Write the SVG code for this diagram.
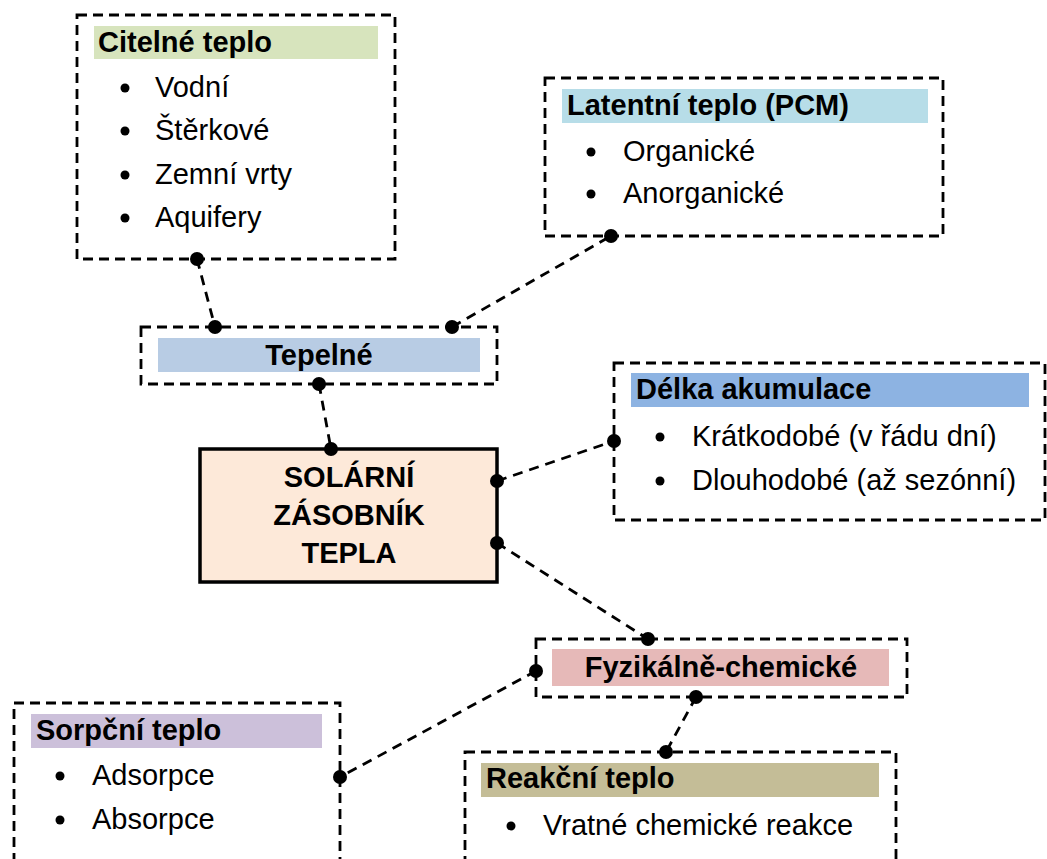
<svg xmlns="http://www.w3.org/2000/svg" width="1047" height="859" viewBox="0 0 1047 859">
<style>
.box{fill:none;stroke:#000;stroke-width:2.8;stroke-dasharray:10,6}
.conn{fill:none;stroke:#000;stroke-width:2.8;stroke-dasharray:10,7}
.dot{fill:#000}
.bul{fill:#000}
.h{font-family:"Liberation Sans",Arial,sans-serif;font-weight:bold;font-size:29px;fill:#000}
.t{font-family:"Liberation Sans",Arial,sans-serif;font-size:29px;fill:#000}
</style>
<rect width="1047" height="859" fill="#fff"/>
<g id="citelne">
<rect class="box" x="77" y="15" width="318" height="244"/>
<rect x="94" y="26" width="284" height="33" fill="#d7e4bd"/>
<text class="h" x="98" y="52">Citelné teplo</text>
<circle class="bul" cx="125" cy="88" r="4.5"/><text class="t" x="155" y="97">Vodní</text>
<circle class="bul" cx="125" cy="131" r="4.5"/><text class="t" x="155" y="140">Štěrkové</text>
<circle class="bul" cx="125" cy="175" r="4.5"/><text class="t" x="155" y="184">Zemní vrty</text>
<circle class="bul" cx="125" cy="218" r="4.5"/><text class="t" x="155" y="227">Aquifery</text>
</g>
<g id="latentni">
<rect class="box" x="545" y="78" width="398" height="158"/>
<rect x="562" y="89" width="366" height="34" fill="#b7dde8"/>
<text class="h" x="567" y="115">Latentní teplo (PCM)</text>
<circle class="bul" cx="591" cy="152" r="4.5"/><text class="t" x="623" y="161">Organické</text>
<circle class="bul" cx="591" cy="194" r="4.5"/><text class="t" x="623" y="203">Anorganické</text>
</g>
<g id="tepelne">
<rect class="box" x="141" y="327" width="356" height="57"/>
<rect x="158" y="338" width="322" height="34" fill="#b8cce4"/>
<text class="h" x="319" y="365" text-anchor="middle">Tepelné</text>
</g>
<g id="solar">
<rect x="200" y="449" width="297" height="133" fill="#fde9d9" stroke="#000" stroke-width="3.5"/>
<text class="h" x="349" y="487" text-anchor="middle">SOLÁRNÍ</text>
<text class="h" x="349" y="525" text-anchor="middle">ZÁSOBNÍK</text>
<text class="h" x="349" y="563" text-anchor="middle">TEPLA</text>
</g>
<g id="delka">
<rect class="box" x="614" y="363" width="431" height="157"/>
<rect x="631" y="373" width="398" height="34" fill="#8db3e2"/>
<text class="h" x="636" y="399">Délka akumulace</text>
<circle class="bul" cx="660" cy="437" r="4.5"/><text class="t" x="692" y="446">Krátkodobé (v řádu dní)</text>
<circle class="bul" cx="660" cy="481" r="4.5"/><text class="t" x="692" y="490">Dlouhodobé (až sezónní)</text>
</g>
<g id="fyzikalne">
<rect class="box" x="536" y="639" width="371" height="58"/>
<rect x="552" y="649" width="337" height="37" fill="#e6b9b8"/>
<text class="h" x="721" y="677" text-anchor="middle">Fyzikálně-chemické</text>
</g>
<g id="sorpcni">
<rect class="box" x="14" y="703" width="326" height="170"/>
<rect x="31" y="714" width="291" height="34" fill="#ccc0da"/>
<text class="h" x="36" y="740">Sorpční teplo</text>
<circle class="bul" cx="60" cy="776" r="4.5"/><text class="t" x="92" y="785">Adsorpce</text>
<circle class="bul" cx="60" cy="820" r="4.5"/><text class="t" x="92" y="829">Absorpce</text>
</g>
<g id="reakcni">
<rect class="box" x="465" y="752" width="431" height="130"/>
<rect x="481" y="763" width="398" height="34" fill="#c4bd97"/>
<text class="h" x="486" y="788">Reakční teplo</text>
<circle class="bul" cx="511" cy="826" r="4.5"/><text class="t" x="543" y="835">Vratné chemické reakce</text>
</g>
<g id="connectors">
<line class="conn" x1="197" y1="259" x2="215" y2="327"/>
<line class="conn" x1="452" y1="327" x2="611" y2="236"/>
<line class="conn" x1="319" y1="384" x2="331" y2="449"/>
<line class="conn" x1="497" y1="481" x2="614" y2="441"/>
<line class="conn" x1="497" y1="543" x2="648" y2="639"/>
<line class="conn" x1="536" y1="671" x2="340" y2="777"/>
<line class="conn" x1="696" y1="697" x2="666" y2="752"/>
<circle class="dot" cx="197" cy="259" r="7"/>
<circle class="dot" cx="215" cy="327" r="7"/>
<circle class="dot" cx="452" cy="327" r="7"/>
<circle class="dot" cx="611" cy="236" r="7"/>
<circle class="dot" cx="319" cy="384" r="7"/>
<circle class="dot" cx="331" cy="449" r="7"/>
<circle class="dot" cx="497" cy="481" r="7"/>
<circle class="dot" cx="614" cy="441" r="7"/>
<circle class="dot" cx="497" cy="543" r="7"/>
<circle class="dot" cx="648" cy="639" r="7"/>
<circle class="dot" cx="536" cy="671" r="7"/>
<circle class="dot" cx="340" cy="777" r="7"/>
<circle class="dot" cx="696" cy="697" r="7"/>
<circle class="dot" cx="666" cy="752" r="7"/>
</g>
</svg>
